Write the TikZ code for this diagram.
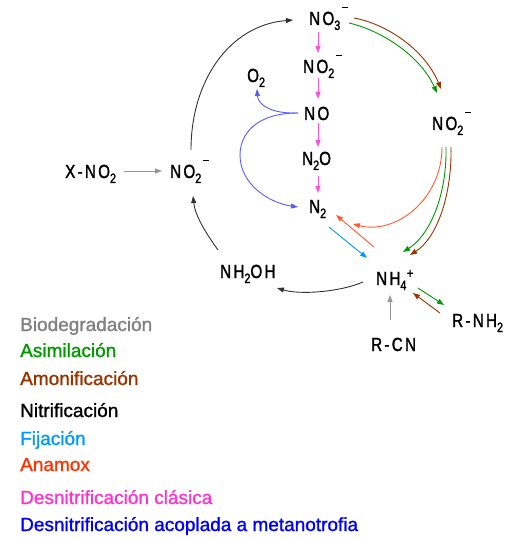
\documentclass[tikz,border=0pt]{standalone}
\usepackage{fontspec}
\setmainfont{Liberation Sans}
\newfontfamily\legfont{Liberation Sans}[FakeBold=1.2]
\newfontfamily\chemfont{Liberation Sans}[FakeStretch=0.8,LetterSpace=12,FakeBold=1.6]
\usetikzlibrary{arrows.meta,calc}
\definecolor{cgray}{RGB}{128,128,128}
\definecolor{agray}{RGB}{150,150,150}
\definecolor{cgreen}{RGB}{0,153,0}
\definecolor{cbrown}{RGB}{153,51,0}
\definecolor{cfij}{RGB}{0,153,255}
\definecolor{canam}{RGB}{255,51,0}
\definecolor{aanam}{RGB}{255,90,50}
\definecolor{cpink}{RGB}{255,51,204}
\definecolor{apink}{RGB}{255,80,220}
\definecolor{cblue}{RGB}{0,0,255}
\definecolor{ablue}{RGB}{90,90,255}
\definecolor{ablack}{RGB}{50,50,50}
\newcommand\sbs[1]{\raisebox{-5pt}{\fontsize{13.5}{14}\selectfont #1}}
\newcommand\minusup{\kern1.5pt\raisebox{17pt}{\rule{6pt}{1.1pt}}}
\newcommand\plusup{\kern0.5pt\raisebox{7pt}{\fontsize{14}{14}\selectfont +}}
\begin{document}
\begin{tikzpicture}[x=1pt,y=-1pt,
  chem/.style={anchor=base west,inner sep=0pt,font={\chemfont\fontsize{19}{22}\selectfont}},
  leg/.style={anchor=base west,inner sep=0pt,font={\legfont\fontsize{19}{22}\selectfont}},
  arr/.style={line width=0.9pt,-{Triangle[length=7pt,width=5pt]}}]
\useasboundingbox (0,0) rectangle (508,540);
% species
\node[chem] (NO3) at (309,25) {NO\sbs{3}\minusup};
\node[chem] (NO2a) at (303,73) {NO\sbs{2}\minusup};
\node[chem] (O2) at (247,82) {O\sbs{2}};
\node[chem] (NO) at (304,120) {NO};
\node[chem] (N2O) at (302,165) {N\sbs{2}O};
\node[chem] (N2) at (309,213) {N\sbs{2}};
\node[chem] (NO2b) at (432,130) {NO\sbs{2}\minusup};
\node[chem] (NH4) at (376,285) {NH\sbs{4}\plusup};
\node[chem] (RNH2) at (452,327) {R-NH\sbs{2}};
\node[chem] (RCN) at (371,351) {R-CN};
\node[chem] (NH2OH) at (220,278) {NH\sbs{2}OH};
\node[chem] (NO2c) at (170,178) {NO\sbs{2}\minusup};
\node[chem] (XNO2) at (65,178) {X-NO\sbs{2}};
% legend
\node[leg,text=cgray] (l1) at (20,331) {Biodegradación};
\node[leg,text=cgreen] (l2) at (20,357) {Asimilación};
\node[leg,text=cbrown] (l3) at (20,385) {Amonificación};
\node[leg,text=black] (l4) at (20,417) {Nitrificación};
\node[leg,text=cfij] (l5) at (20,445) {Fijación};
\node[leg,text=canam] (l6) at (20,471) {Anamox};
\node[leg,text=cpink] (l7) at (20,504) {Desnitrificación clásica};
\node[leg,text=cblue] (l8) at (20,531) {Desnitrificación acoplada a metanotrofia};
% biodegradation
\draw[arr,agray] ($(XNO2.base west)+(59,-7)$) -- ($(NO2c.base west)+(-8,-7)$);
\draw[arr,agray] ($(RCN.base west)+(19,-31)$) -- ($(NH4.base west)+(14,10)$);
% nitrification
\draw[arr,ablack] ($(NH2OH.base west)+(-2,-28)$) .. controls +(-13,-18) and +(2,19) .. ($(NO2c.base west)+(23,18)$);
\draw[arr,ablack] ($(NO2c.base west)+(21,-28)$) .. controls +(0,-70) and +(-63,5) .. ($(NO3.base west)+(-16,-5)$);
\draw[arr,ablack] ($(NH4.base west)+(-13,-3)$) .. controls +(-23,10) and +(23,7) .. ($(NH2OH.base west)+(57,10)$);
% assimilation / ammonification
\draw[arr,cgreen] ($(NH4.base west)+(42,3)$) -- ($(RNH2.base west)+(-8,-22)$);
\draw[arr,cbrown] ($(RNH2.base west)+(-12,-14)$) -- ($(NH4.base west)+(37,8)$);
\draw[arr,cgreen] ($(NO3.base west)+(40,-2)$) .. controls +(31,7) and +(-17,-38) .. ($(NO2b.base west)+(5,-37)$);
\draw[arr,cbrown] ($(NO3.base west)+(45,-7)$) .. controls +(33,6) and +(-16,-39) .. ($(NO2b.base west)+(9,-41)$);
\draw[arr,cgreen] ($(NO2b.base west)+(14,17)$) .. controls +(1,48) and +(27,-17) .. ($(NH4.base west)+(27,-33)$);
\draw[arr,cbrown] ($(NO2b.base west)+(19,17)$) .. controls +(1,48) and +(27,-17) .. ($(NH4.base west)+(34,-30)$);
% fixation / anammox
\draw[arr,cfij] ($(N2.base west)+(20,14)$) -- ($(NH4.base west)+(-9,-27)$);
\draw[arr,aanam] ($(NH4.base west)+(-2,-38)$) -- ($(N2.base west)+(27,2)$);
\draw[arr,aanam] ($(NO2b.base west)+(10,17)$) .. controls +(0,53) and +(42,11) .. ($(N2.base west)+(44,11)$);
% classical denitrification
\draw[arr,apink] ($(NO3.base west)+(9,7)$) -- ($(NO2a.base west)+(15,-20)$);
\draw[arr,apink] ($(NO2a.base west)+(15,5)$) -- ($(NO.base west)+(14,-21)$);
\draw[arr,apink] ($(NO.base west)+(14,3)$) -- ($(N2O.base west)+(16,-18)$);
\draw[arr,apink] ($(N2O.base west)+(16,11)$) -- ($(N2.base west)+(9,-20)$);
% methanotrophy-coupled denitrification
\draw[arr,ablue] ($(NO.base west)+(-6,-7)$) .. controls +(-26,1) and +(1,16) .. ($(O2.base west)+(10,7)$);
\draw[arr,ablue] ($(NO.base west)+(-6,-7)$) .. controls +(-43,0) and +(0,-20) .. ($(NO.base west)+(-64,35)$) .. controls +(0,30) and +(-28,-4) .. ($(N2.base west)+(-11,-6)$);
\end{tikzpicture}
\end{document}
